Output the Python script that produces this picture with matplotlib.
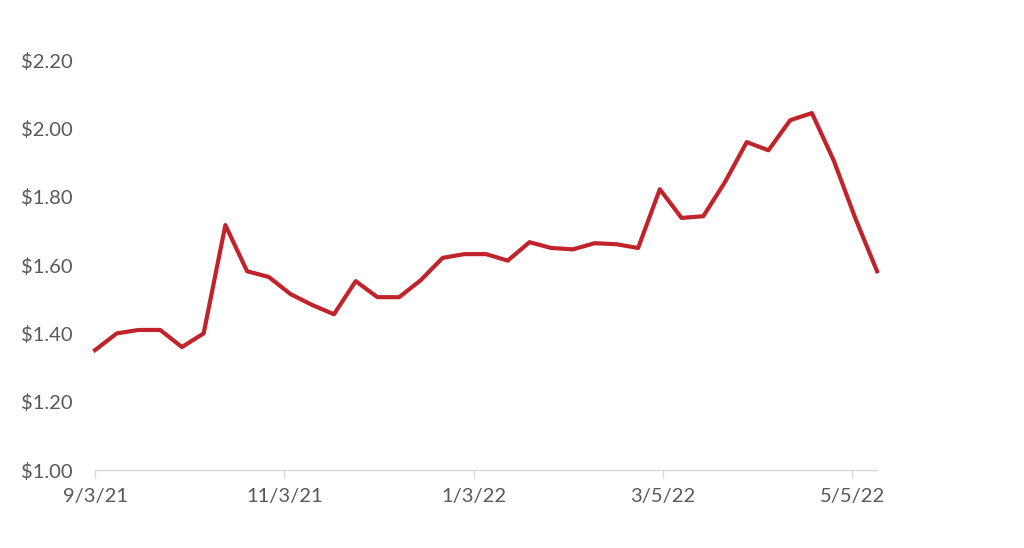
import numpy as np
import pandas as pd
import matplotlib
matplotlib.use("Agg")
import matplotlib.pyplot as plt
import matplotlib.dates as mdates

# weekly prices, starting 9/3/21
start_date = "2021-09-03"
prices = [1.351, 1.400, 1.410, 1.410, 1.360, 1.400, 1.717, 1.582, 1.565,
          1.515, 1.483, 1.456, 1.553, 1.506, 1.506, 1.556, 1.621, 1.632,
          1.632, 1.613, 1.667, 1.650, 1.646, 1.664, 1.661, 1.650, 1.822,
          1.738, 1.743, 1.843, 1.960, 1.936, 2.024, 2.045, 1.907, 1.737,
          1.582]
dates = pd.date_range(start_date, periods=len(prices), freq="7D")

tick_dates = pd.to_datetime(["2021-09-03", "2021-11-03", "2022-01-03",
                             "2022-03-05", "2022-05-05"])
tick_labels = ["9/3/21", "11/3/21", "1/3/22", "3/5/22", "5/5/22"]
y_ticks = [1.00, 1.20, 1.40, 1.60, 1.80, 2.00, 2.20]

plt.rcParams['font.family'] = ['Lato', 'DejaVu Sans']

fig = plt.figure(figsize=(10.24, 5.48), dpi=100)
ax = fig.add_axes([0.0928, 0.1423, 0.7637, 0.748])

ax.plot(dates, prices, color="#C0232A", linewidth=3.0, clip_on=False)

ax.set_xlim(dates[0], dates[-1])
ax.set_ylim(1.0, 2.2)
ax.set_xticks(tick_dates)
ax.set_xticklabels(tick_labels)
ax.set_yticks(y_ticks)
ax.set_yticklabels(["${:.2f}".format(v) for v in y_ticks])

for s in ["top", "right", "left"]:
    ax.spines[s].set_visible(False)
ax.spines["bottom"].set_color("#D9D9D9")
ax.spines["bottom"].set_linewidth(1)

ax.tick_params(axis="x", colors="#D9D9D9", length=6, width=1, labelcolor="#595959",
               labelsize=14.5, pad=7)
ax.tick_params(axis="y", length=0, labelcolor="#595959", labelsize=14.5, pad=16)

fig.savefig("out.png", dpi=100)
